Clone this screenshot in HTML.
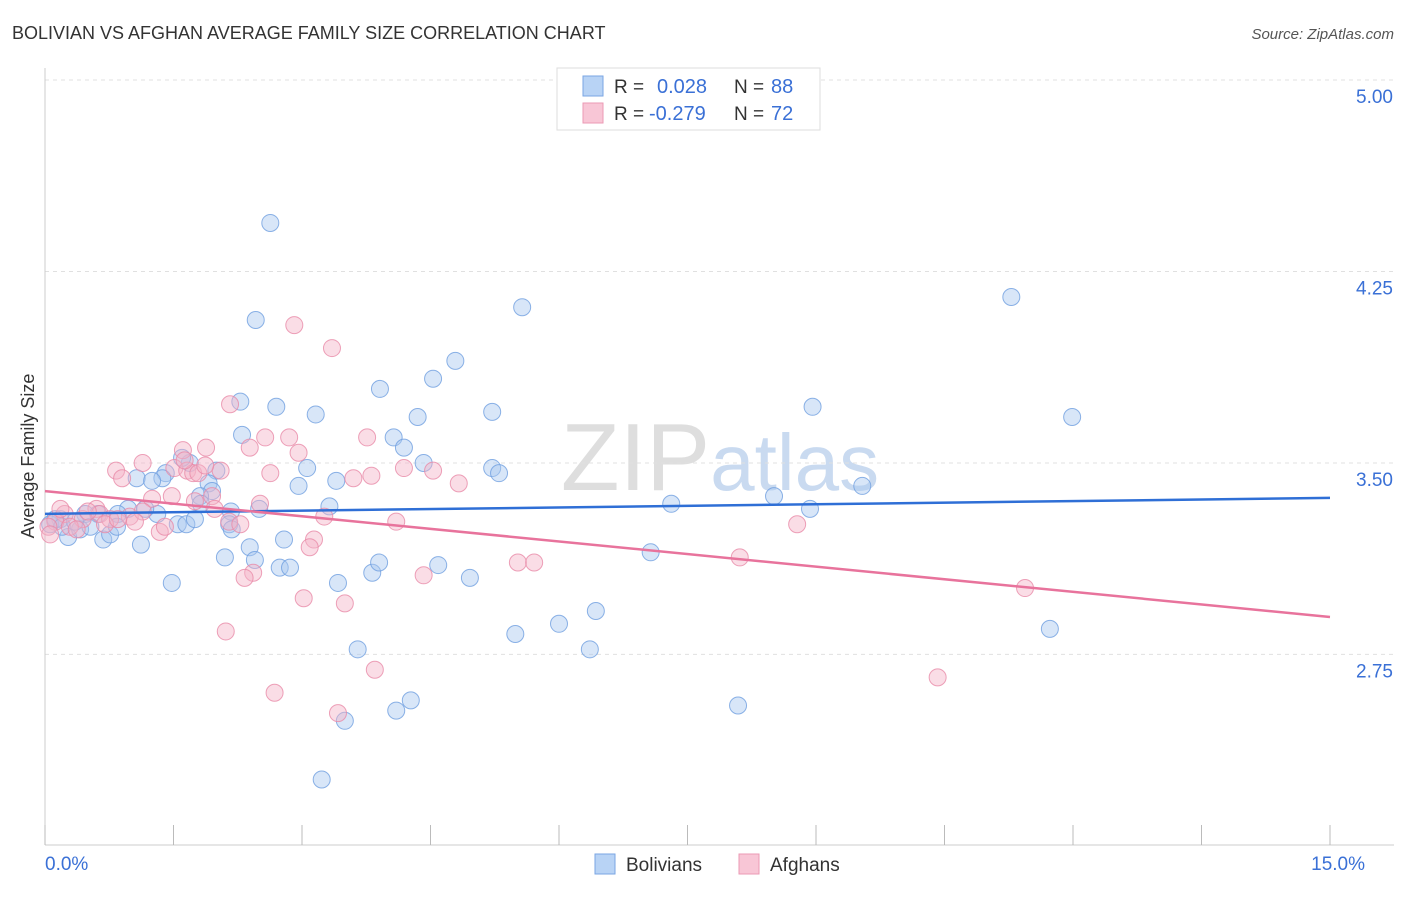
<!DOCTYPE html>
<html><head><meta charset="utf-8"><style>
body{margin:0;background:#fff;font-family:"Liberation Sans",sans-serif}
svg text{font-family:"Liberation Sans",sans-serif}
</style></head><body>
<svg id="chart" width="1406" height="892" viewBox="0 0 1406 892" xmlns="http://www.w3.org/2000/svg">
<text x="12" y="39" font-size="18" fill="#333">BOLIVIAN VS AFGHAN AVERAGE FAMILY SIZE CORRELATION CHART</text>
<text x="1394" y="39" font-size="15" fill="#555" text-anchor="end" font-style="italic">Source: ZipAtlas.com</text>
<text x="720" y="490" font-size="96" fill="#dcdcdc" text-anchor="middle" font-family="Liberation Serif"><tspan fill="#dedede">ZIP</tspan><tspan fill="#c9daf0" font-family="Liberation Sans" font-size="80">atlas</tspan></text>
<g id="grid"></g>
<g id="axes"></g>
<g id="pts"></g>
<g id="trends"></g>
<text transform="translate(34,456) rotate(-90)" font-size="18" fill="#333" text-anchor="middle">Average Family Size</text>
<g>
<rect x="557" y="68" width="263" height="62" fill="#fff" stroke="#ddd"/>
<rect x="583" y="76" width="20" height="20" fill="#b8d3f5" stroke="#7aa6e3"/>
<rect x="583" y="103" width="20" height="20" fill="#f8c6d6" stroke="#eb9ab4"/>
<text x="614" y="93" font-size="19" fill="#333">R =</text>
<text x="657" y="93" font-size="20" fill="#3a70d6">0.028</text>
<text x="734" y="93" font-size="19" fill="#333">N =</text>
<text x="771" y="93" font-size="20" fill="#3a70d6">88</text>
<text x="614" y="120" font-size="19" fill="#333">R =</text>
<text x="649" y="120" font-size="20" fill="#3a70d6">-0.279</text>
<text x="734" y="120" font-size="19" fill="#333">N =</text>
<text x="771" y="120" font-size="20" fill="#3a70d6">72</text>
</g>
<g>
<rect x="595" y="854" width="20" height="20" fill="#b8d3f5" stroke="#7aa6e3"/>
<text x="626" y="871" font-size="19" fill="#333">Bolivians</text>
<rect x="739" y="854" width="20" height="20" fill="#f8c6d6" stroke="#eb9ab4"/>
<text x="770" y="871" font-size="19" fill="#333">Afghans</text>
</g>
</svg>
<script>
const bolX=[2.63,2.46,5.57,11.28,4.79,4.53,3.91,2.28,2.70,3.16,4.35,5.22,8.96,11.99,2.30,4.07,4.19,1.69,3.06,4.42,5.22,5.30,2.00,1.41,1.07,1.37,1.60,1.25,1.91,1.95,2.96,3.40,1.81,1.82,2.17,2.50,3.32,7.31,8.51,8.93,9.54,1.31,0.97,0.85,0.62,0.47,0.18,0.06,0.27,0.41,0.68,0.76,0.84,1.55,1.65,2.15,1.12,2.10,2.39,2.79,2.74,2.86,3.82,3.90,4.59,4.96,3.42,1.48,7.07,6.43,6.00,5.49,6.36,3.65,11.73,4.27,4.10,3.50,8.09,3.23,0.12,0.20,0.35,0.53,1.17,1.75,2.18,2.45];
const bolY=[4.44,4.06,4.11,4.15,3.90,3.83,3.79,3.74,3.72,3.69,3.68,3.70,3.72,3.68,3.61,3.60,3.56,3.50,3.48,3.50,3.48,3.46,3.47,3.46,3.44,3.44,3.52,3.43,3.42,3.39,3.41,3.43,3.37,3.34,3.31,3.32,3.33,3.34,3.37,3.32,3.41,3.30,3.32,3.30,3.30,3.30,3.28,3.26,3.21,3.24,3.20,3.22,3.25,3.26,3.26,3.26,3.18,3.13,3.17,3.20,3.09,3.09,3.07,3.11,3.10,3.05,3.03,3.03,3.15,2.92,2.87,2.83,2.77,2.77,2.85,2.57,2.53,2.49,2.55,2.26,3.28,3.25,3.27,3.25,3.32,3.28,3.24,3.12];
const afgX=[2.91,3.35,2.16,2.57,2.85,3.76,1.88,1.61,2.39,2.96,1.14,0.83,1.51,1.66,1.73,1.79,2.05,2.63,4.19,4.53,3.60,3.81,4.83,0.90,1.25,1.48,1.95,2.51,0.60,0.64,0.99,1.14,0.44,0.23,0.12,0.04,0.29,0.76,1.05,1.34,1.40,2.15,2.28,3.26,4.10,8.78,3.14,3.09,2.43,2.33,4.42,5.52,5.71,8.11,3.02,3.50,2.11,11.44,3.85,2.68,3.42,10.42,0.06,0.50,1.87,1.98,1.75,0.18,0.37,0.70,0.85,1.63];
const afgY=[4.04,3.95,3.73,3.60,3.60,3.60,3.56,3.55,3.56,3.54,3.50,3.47,3.48,3.47,3.46,3.46,3.47,3.46,3.48,3.47,3.44,3.45,3.42,3.44,3.36,3.37,3.37,3.34,3.32,3.30,3.29,3.31,3.28,3.30,3.27,3.25,3.25,3.28,3.27,3.23,3.25,3.27,3.26,3.29,3.27,3.26,3.20,3.17,3.07,3.05,3.06,3.11,3.11,3.13,2.97,2.95,2.84,3.01,2.69,2.60,2.52,2.66,3.22,3.31,3.49,3.32,3.35,3.32,3.24,3.26,3.28,3.51];
const yTicks=[5.00,4.25,3.50,2.75];
const xTickLabels=["0.0%","15.0%"];
const NS="http://www.w3.org/2000/svg";
const X0=45,X1=1330,XMAX=15;
function sx(v){return X0+(v/XMAX)*(X1-X0);}
function sy(v){return 80+(5-v)*255.3;}
function mk(tag,attrs,parent){const e=document.createElementNS(NS,tag);for(const k in attrs)e.setAttribute(k,attrs[k]);parent.appendChild(e);return e;}
const grid=document.getElementById('grid'),axes=document.getElementById('axes'),pts=document.getElementById('pts'),tr=document.getElementById('trends');
yTicks.forEach(t=>{
 const l=mk('line',{x1:45,x2:1394,y1:sy(t),y2:sy(t),stroke:'#e0e0e0','stroke-dasharray':'4,4'},grid);
 
 
 const tx=mk('text',{x:1393,y:sy(t)+23,'font-size':19,fill:'#3a70d6','text-anchor':'end'},axes);
 tx.textContent=t.toFixed(2);
 
 
});
const al=mk('line',{x1:45,x2:1394,y1:845,y2:845,stroke:'#ccc'},axes);


const yl=mk('line',{x1:45,x2:45,y1:68,y2:845,stroke:'#ccc'},axes);


for(let i=0;i<=10;i++){
 const v=i*1.5;
 const tk=mk('line',{x1:sx(v),x2:sx(v),y1:825,y2:845,stroke:'#bbb'},axes);
 
 
}
[[0,'start',xTickLabels[0]],[XMAX,'end',xTickLabels[1]]].forEach(([v,a,s])=>{
 const t=mk('text',{x:sx(v)+(a==='start'?0:35),y:870,'font-size':19,fill:'#3a70d6','text-anchor':a},axes);
 t.textContent=s;
 
 
});
function draw(xs,ys,fill,stroke,name){
 xs.forEach((x,i)=>{
  const c=mk('circle',{cx:sx(x),cy:sy(ys[i]),r:8.5,fill:fill,'fill-opacity':0.45,stroke:stroke,'stroke-opacity':0.8,'stroke-width':1},pts);
  
  
 });
}
draw(bolX,bolY,'#a9c8f0','#6f9fe0','bolivian-point');
draw(afgX,afgY,'#f5b3c7','#e88aa8','afghan-point');
function fit(xs,ys){const n=xs.length;let mx=0,my=0;for(let i=0;i<n;i++){mx+=xs[i];my+=ys[i];}mx/=n;my/=n;let a=0,b=0;for(let i=0;i<n;i++){a+=(xs[i]-mx)*(ys[i]-my);b+=(xs[i]-mx)**2;}const m=a/b;return [my-m*mx,m];}
[[bolX,bolY,'#2f6fd6','bolivian-trend-line'],[afgX,afgY,'#e8739c','afghan-trend-line']].forEach(([xs,ys,c,n])=>{
 const [b,m]=fit(xs,ys);
 const l=mk('line',{x1:sx(0),y1:sy(b),x2:sx(XMAX),y2:sy(b+m*XMAX),stroke:c,'stroke-width':2.5},tr);
 
 
});
</script>
</body></html>
